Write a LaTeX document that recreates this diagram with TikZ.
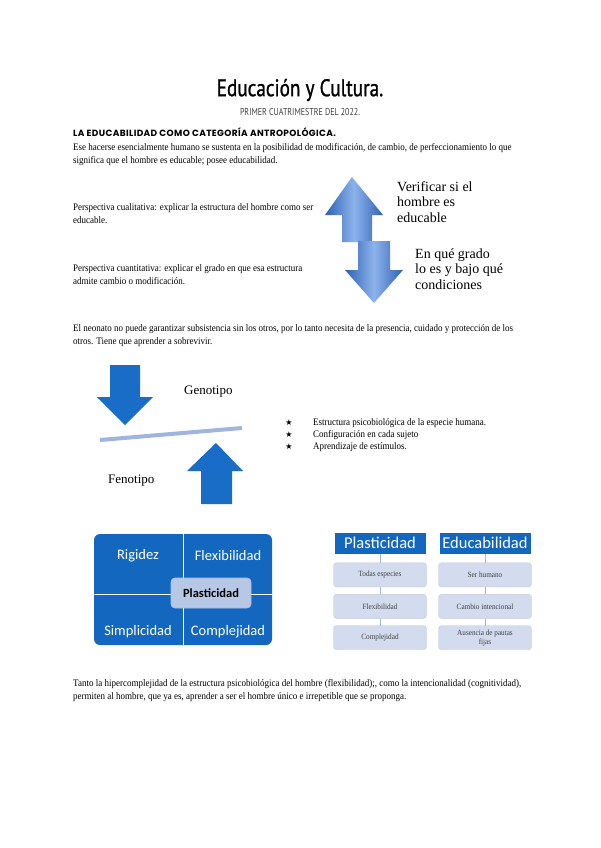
\documentclass[tikz,border=0pt]{standalone}
\usepackage{fontspec}
\setmainfont[FakeStretch=0.9]{Liberation Serif}
\newfontfamily\titlefont[FakeStretch=0.8, FakeBold=1]{PT Sans}
\newfontfamily\subfont[FakeStretch=0.8]{PT Sans}
\newfontfamily\headfont[LetterSpace=4]{Poppins}
\newfontfamily\boxfont{Carlito}
\newfontfamily\bigserif{Liberation Serif}
\newfontfamily\symfont{DejaVu Sans}
\usetikzlibrary{positioning, calc}
\definecolor{matblue}{HTML}{1467BF}
\definecolor{arrowblue}{HTML}{1A6DC6}
\definecolor{lineblue}{HTML}{9FB4DF}
\definecolor{paleblue}{HTML}{D3DBEE}
\definecolor{centerfill}{HTML}{B7C7E6}
\definecolor{gradedge}{HTML}{2E62B5}
\definecolor{gradmid}{HTML}{8DB3EC}
\tikzset{
  body/.style={anchor=base west, align=left, inner sep=0pt, font=\fontsize{10}{13}\selectfont},
  bigtext/.style={anchor=base west, align=left, inner sep=0pt, font=\bigserif\fontsize{14}{15.5}\selectfont},
  updown/.style={shading=axis, left color=gradedge, right color=gradedge, middle color=gradmid, shading angle=90},
  quadlabel/.style={text=white, font=\boxfont\fontsize{14.5}{16}\selectfont},
  header/.style={fill=matblue, text=white, minimum width=91pt, minimum height=21pt, inner sep=0pt, font=\boxfont\fontsize{16.5}{18}\selectfont},
  item/.style={fill=paleblue, draw=paleblue!80!gray, rounded corners=3pt, minimum width=93pt, minimum height=24pt, inner sep=1pt, align=center, text=black!75, font=\fontsize{8}{9}\selectfont},
  link/.style={draw=lineblue, line width=0.6pt}
}
\begin{document}
\begin{tikzpicture}[x=1pt,y=-1pt]
\useasboundingbox (0,0) rectangle (600,848);
\fill[white] (0,0) rectangle (600,848);
% cabecera
\node (title) at (300,90) {\titlefont\fontsize{24}{26}\selectfont Educación y Cultura.};
\node (sub) at (300,112) {\subfont\fontsize{10}{11}\selectfont\color{black!75} PRIMER CUATRIMESTRE DEL 2022.};
\node[body] (head) at (73,136) {\headfont\bfseries\fontsize{9}{11}\selectfont LA EDUCABILIDAD COMO CATEGORÍA ANTROPOLÓGICA.};
\node[body] (intro) at (73,163) {Ese hacerse esencialmente humano se sustenta en la posibilidad de modificación, de cambio, de perfeccionamiento lo que\\significa que el hombre es educable; posee educabilidad.};
% perspectivas
\node[body] (cuali) at (73,223) {Perspectiva cualitativa: explicar la estructura del hombre como ser\\educable.};
\node[body] (cuanti) at (73,284) {Perspectiva cuantitativa: explicar el grado en que esa estructura\\admite cambio o modificación.};
\path[updown] (352,177) -- (383,215) -- (372,215) -- (372,242) -- (342,242) -- (342,215) -- (325,215) -- cycle;
\path[updown] (358,241) -- (390,241) -- (390,270) -- (403,270) -- (374,303) -- (345,270) -- (358,270) -- cycle;
\node[bigtext] (verif) at (397,222) {Verificar si el\\hombre es\\educable};
\node[bigtext] (grado) at (415,289) {En qué grado\\lo es y bajo qué\\condiciones};
% neonato
\node[body] (neo) at (73,344) {El neonato no puede garantizar subsistencia sin los otros, por lo tanto necesita de la presencia, cuidado y protección de los\\otros. Tiene que aprender a sobrevivir.};
% genotipo / fenotipo
\fill[arrowblue] (110,365) -- (140,365) -- (140,397) -- (153,397) -- (125,425) -- (97,397) -- (110,397) -- cycle;
\fill[arrowblue] (216,443) -- (243,471) -- (232,471) -- (232,504) -- (201,504) -- (201,471) -- (187,471) -- cycle;
\draw[lineblue, line width=4pt] (100,440) -- (242,428);
\node[body, font=\bigserif\fontsize{13}{15}\selectfont] (geno) at (184,394) {Genotipo};
\node[body, font=\bigserif\fontsize{13}{15}\selectfont] (feno) at (108,483) {Fenotipo};
\foreach \txt [count=\i] in {Estructura psicobiológica de la especie humana., Configuración en cada sujeto, Aprendizaje de estímulos.} {
  \node[body] (bul\i) at (313,413+12*\i) {\txt};
  \node[anchor=base, inner sep=0pt, font=\symfont\fontsize{8}{9}\selectfont] (star\i) at (289,413+12*\i) {★};
}
% matriz
\fill[matblue, rounded corners=6pt] (94,534) rectangle (272,645);
\draw[white, line width=0.8pt] (183,534) -- (183,645) (94,594) -- (272,594);
\node[quadlabel] (rig) at (138,556) {Rigidez};
\node[quadlabel] (flex) at (228,556) {Flexibilidad};
\node[quadlabel] (simp) at (138,632) {Simplicidad};
\node[quadlabel] (comp) at (228,632) {Complejidad};
\node[fill=centerfill, draw=gradedge!40, line width=0.8pt, rounded corners=4pt, minimum width=80pt, minimum height=30pt, inner sep=0pt, font=\boxfont\bfseries\fontsize{12.5}{15}\selectfont] (plast) at (211,593) {Plasticidad};
% listas
\node[header] (hplast) at (380,543) {Plasticidad};
\node[item, below=9pt of hplast] (p1) {Todas especies};
\node[item, below=7pt of p1] (p2) {Flexibilidad};
\node[item, below=7pt of p2] (p3) {Complejidad};
\node[header] (heduc) at (485,543) {Educabilidad};
\node[item, below=9pt of heduc] (e1) {Ser humano};
\node[item, below=7pt of e1] (e2) {Cambio intencional};
\node[item, below=7pt of e2] (e3) {Ausencia de pautas\\fijas};
\foreach \a/\b in {hplast/p1, p1/p2, p2/p3, heduc/e1, e1/e2, e2/e3}
  \draw[link] (\a) -- (\b);
% cierre
\node[body] (final) at (73,699) {Tanto la hipercomplejidad de la estructura psicobiológica del hombre (flexibilidad);, como la intencionalidad (cognitividad),\\permiten al hombre, que ya es, aprender a ser el hombre único e irrepetible que se proponga.};
\end{tikzpicture}
\end{document}
